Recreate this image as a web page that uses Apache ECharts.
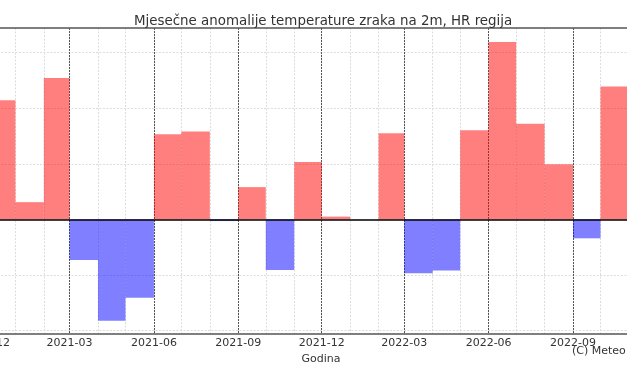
<!DOCTYPE html>
<html>
<head>
<meta charset="utf-8">
<script src="https://cdn.jsdelivr.net/npm/echarts@6/dist/echarts.min.js"></script>
<style>
html, body { margin: 0; padding: 0; background: #fff; }
#chart { width: 627px; height: 376px; }
</style>
</head>
<body>
<div id="chart"></div>
<script>
// mjesecne anomalije (°C)
var months = ['2020-12', '2021-01', '2021-02', '2021-03', '2021-04', '2021-05', '2021-06', '2021-07',
              '2021-08', '2021-09', '2021-10', '2021-11', '2021-12', '2022-01', '2022-02', '2022-03',
              '2022-04', '2022-05', '2022-06', '2022-07', '2022-08', '2022-09', '2022-10'];
var anomalies = [2.14, 0.31, 2.54, -0.73, -1.82, -1.41, 1.53, 1.58,
                 -0.03, 0.58, -0.91, 1.03, 0.05, 0.0, 1.55, -0.97,
                 -0.92, 1.60, 3.19, 1.72, 0.99, -0.34, 2.39];
var gridMonths = ['2020-11', '2020-12', '2021-01', '2021-02', '2021-03', '2021-04', '2021-05', '2021-06',
                  '2021-07', '2021-08', '2021-09', '2021-10', '2021-11', '2021-12', '2022-01', '2022-02',
                  '2022-03', '2022-04', '2022-05', '2022-06', '2022-07', '2022-08', '2022-09', '2022-10',
                  '2022-11', '2022-12'];
var tickMonths = ['2020-12', '2021-03', '2021-06', '2021-09', '2021-12', '2022-03', '2022-06', '2022-09', '2022-12'];
var yTicks = [-2, -1, 0, 1, 2, 3];

function ms(s) {
	var p = s.split('-');
	return Date.UTC(+p[0], +p[1] - 1, 1);
}
function nextMs(s) {
	var p = s.split('-');
	return Date.UTC(+p[0], +p[1], 1);
}
function fmt(v) {
	var d = new Date(v);
	return d.getUTCFullYear() + '-' + ('0' + (d.getUTCMonth() + 1)).slice(-2);
}

var xMin = ms('2020-11');
var xMax = Date.UTC(2022, 11, 29, 10);

var barData = [];
for (var i = 0; i < months.length; i++) {
	barData.push([ms(months[i]), nextMs(months[i]), anomalies[i]]);
}

var myChart = echarts.init(document.getElementById('chart'));
myChart.setOption({
	animation: false,
	textStyle: { fontFamily: 'DejaVu Sans' },
	title: {
		text: 'Mjesečne anomalije temperature zraka na 2m, HR regija',
		left: 129,
		top: 10,
		textStyle: { fontSize: 13.4, fontWeight: 'normal', color: '#333', fontFamily: 'DejaVu Sans' }
	},
	grid: { left: -40.5, right: -55.5, top: 28, bottom: 42, outerBoundsMode: 'none', containLabel: false },
	xAxis: [
		{
			type: 'value',
			position: 'top',
			min: xMin,
			max: xMax,
			axisLine: { show: true, onZero: false, lineStyle: { color: '#555', width: 1.5 } },
			axisTick: { show: false, customValues: gridMonths.map(ms) },
			axisLabel: { show: false },
			splitLine: { show: true, lineStyle: { color: '#dcdcdc', type: [2, 1.5], width: 1 } }
		},
		{
			type: 'value',
			position: 'bottom',
			min: xMin,
			max: xMax,
			axisLine: { show: true, onZero: false, lineStyle: { color: '#555', width: 1.5 } },
			axisTick: { show: false, customValues: tickMonths.map(ms) },
			axisLabel: {
				customValues: tickMonths.map(ms),
				formatter: fmt,
				fontSize: 11,
				color: '#333',
				margin: 4,
				hideOverlap: false
			},
			splitLine: { show: true, lineStyle: { color: '#555', type: [2, 1], width: 1 } },
			name: 'Godina',
			nameLocation: 'middle',
			nameGap: 17,
			nameTextStyle: { fontSize: 11, color: '#333' }
		}
	],
	yAxis: {
		type: 'value',
		min: -2.06,
		max: 3.44,
		axisLine: { show: false },
		axisLabel: { show: false },
		axisTick: { show: false, customValues: yTicks },
		splitLine: { show: true, lineStyle: { color: '#dcdcdc', type: [2, 1.5], width: 1 } }
	},
	graphic: [
		{
			type: 'text',
			left: 572,
			top: 346,
			style: { text: '(C) Meteo', fill: '#333', font: '11px "DejaVu Sans"' }
		}
	],
	series: [
		{
			type: 'custom',
			xAxisIndex: 1,
			clip: true,
			data: barData,
			encode: { x: [0, 1], y: 2 },
			renderItem: function (params, api) {
				var v = api.value(2);
				var a = api.coord([api.value(0), 0]);
				var b = api.coord([api.value(1), v]);
				return {
					type: 'rect',
					shape: { x: a[0], y: Math.min(a[1], b[1]), width: b[0] - a[0], height: Math.abs(b[1] - a[1]) },
					style: { fill: v >= 0 ? 'rgba(255,0,0,0.5)' : 'rgba(0,0,255,0.5)' }
				};
			},
			markLine: {
				silent: true,
				symbol: 'none',
				label: { show: false },
				lineStyle: { color: '#000', width: 1.5, type: 'solid' },
				data: [{ yAxis: 0 }]
			}
		}
	]
});
</script>
</body>
</html>
